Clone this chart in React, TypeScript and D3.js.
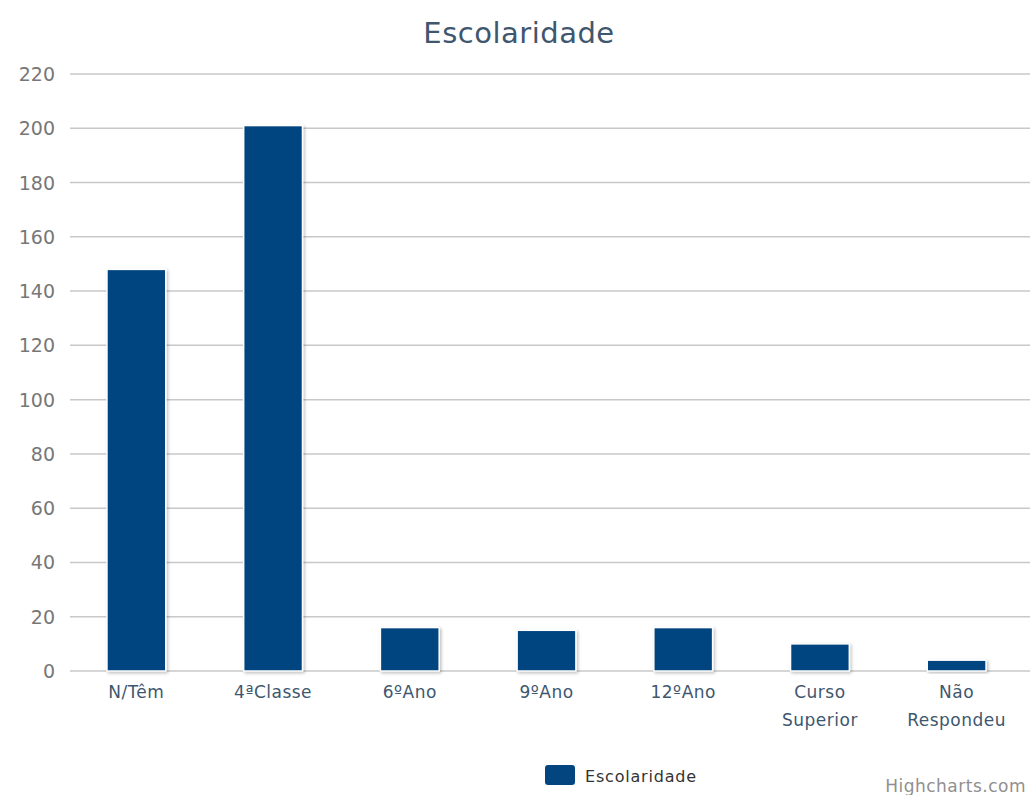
import React from 'react';
import * as d3 from 'd3';

const categories = ['N/Têm', '4ªClasse', '6ºAno', '9ºAno', '12ºAno', 'Curso Superior', 'Não Respondeu'];
const values = [148, 201, 16, 15, 16, 10, 4];
const yTicks = [0, 20, 40, 60, 80, 100, 120, 140, 160, 180, 200, 220];
const seriesName = 'Escolaridade';

const W = 1030;
const H = 795;
const margin = { top: 74, right: 5, bottom: 124, left: 68 };
const barColor = '#03457f';
const font = '"DejaVu Sans", "Open Sans", sans-serif';

const App: React.FC = () => {
  const x = d3.scaleBand<string>()
    .domain(categories)
    .range([margin.left, W - margin.right])
    .paddingInner(0.57)
    .paddingOuter(0.285);
  const y = d3.scaleLinear().domain([0, 220]).range([H - margin.bottom, margin.top]);

  return (
    <svg width={W} height={H} style={{ position: 'absolute', left: 0, top: 0, background: '#fff' }}>
      <defs>
        <filter id="shadow" x="-20%" y="-20%" width="140%" height="140%">
          <feDropShadow dx="1.5" dy="1.5" stdDeviation="1.5" floodColor="#000" floodOpacity="0.25" />
        </filter>
      </defs>
      <text x={W / 2 + 4} y={43} textAnchor="middle" fontFamily={font} fontSize={29} fill="#3e576f" letterSpacing={0.5}>
        Escolaridade
      </text>
      {yTicks.map(t => (
        <g key={t}>
          <line x1={70} x2={W} y1={y(t)} y2={y(t)} stroke="#c8c8c8" strokeWidth={1.5} />
          <text x={55} y={y(t) + 7} textAnchor="end" fontFamily={font} fontSize={19} fill="#777">
            {t}
          </text>
        </g>
      ))}
      {categories.map((c, i) => (
        <rect
          key={c}
          x={x(c)!}
          y={y(values[i])}
          width={x.bandwidth()}
          height={y(0) - y(values[i])}
          fill={barColor}
          stroke="#fff"
          strokeWidth={1.5}
          filter="url(#shadow)"
        />
      ))}
      {categories.map(c => {
        const parts = c === 'Curso Superior' ? ['Curso', 'Superior'] : c === 'Não Respondeu' ? ['Não', 'Respondeu'] : [c];
        const cx = x(c)! + x.bandwidth() / 2;
        return (
          <text key={c} x={cx} textAnchor="middle" fontFamily={font} fontSize={17} fill="#3e576f" letterSpacing={0.5}>
            {parts.map((p, j) => (
              <tspan key={p} x={cx} y={698 + j * 28}>{p}</tspan>
            ))}
          </text>
        );
      })}
      <rect x={545} y={765} width={30} height={20} rx={3} fill={barColor} />
      <text x={585} y={782} fontFamily={font} fontSize={16} fill="#333" letterSpacing={0.8}>{seriesName}</text>
      <text x={1026} y={792} textAnchor="end" fontFamily={font} fontSize={17} fill="#909090" letterSpacing={0.5}>
        Highcharts.com
      </text>
    </svg>
  );
};

export default App;
